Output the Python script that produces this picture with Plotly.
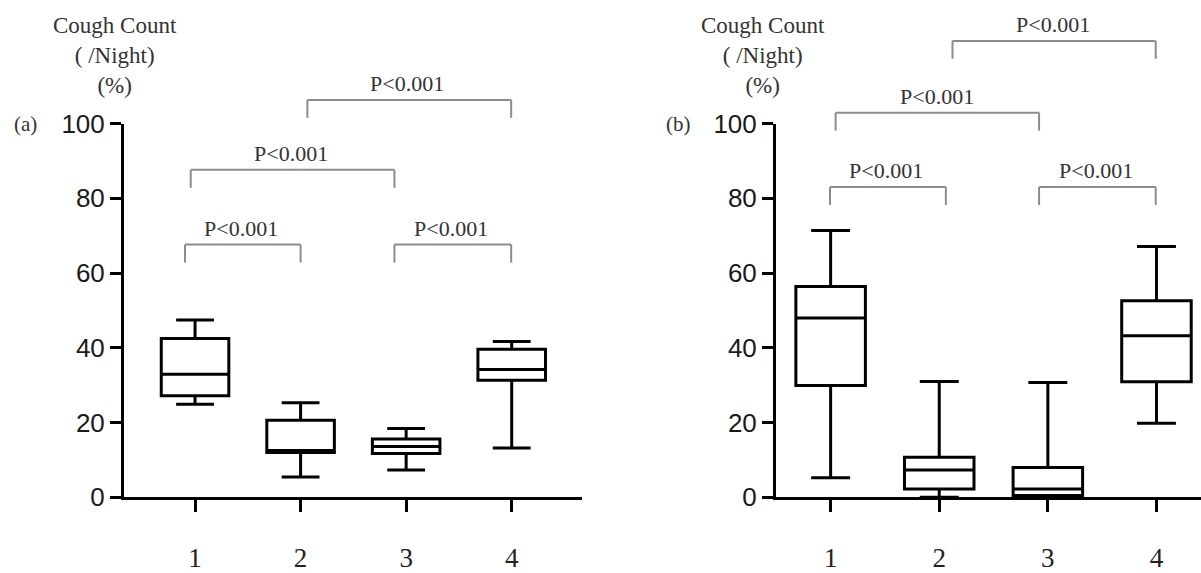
import plotly.graph_objects as go

# ---------------- data ----------------
groups = [1, 2, 3, 4]
group_labels = ["1", "2", "3", "4"]

# Panel (a)
a_lower = [24.9, 5.4, 7.3, 13.2]
a_q1 = [27.2, 12.0, 11.7, 31.3]
a_median = [32.9, 12.5, 13.6, 34.2]
a_q3 = [42.5, 20.6, 15.6, 39.6]
a_upper = [47.4, 25.3, 18.4, 41.7]

# Panel (b)
b_lower = [5.2, 0.0, 0.0, 19.8]
b_q1 = [29.9, 2.2, 0.5, 30.9]
b_median = [48.0, 7.3, 2.2, 43.2]
b_q3 = [56.4, 10.7, 8.0, 52.6]
b_upper = [71.4, 31.0, 30.7, 67.1]

p_text = "P<0.001"

# significance brackets: left group, right group, bracket height
a_br_left = [0.905, 2.889, 0.959, 2.064]
a_br_right = [2.0, 3.995, 2.889, 3.995]
a_br_top = [67.6, 67.6, 87.6, 106.3]
a_lab_x = [1.44, 3.425, 1.91, 3.01]

b_br_left = [0.994, 2.919, 1.046, 2.122]
b_br_right = [2.061, 3.993, 2.919, 3.993]
b_br_top = [83.0, 83.0, 102.9, 122.1]
b_lab_x = [1.51, 3.447, 1.978, 3.045]

y_ticks = [0, 20, 40, 60, 80, 100]
y_max = 100

# ---------------- figure ----------------
W, H = 1201, 573
fig = go.Figure()

box_style = dict(boxpoints=False, line=dict(color="black", width=3),
                 fillcolor="white", width=0.64, whiskerwidth=0.56,
                 showlegend=False, hoverinfo="skip")

fig.add_trace(go.Box(x=groups, q1=a_q1, median=a_median, q3=a_q3,
                     lowerfence=a_lower, upperfence=a_upper,
                     xaxis="x", yaxis="y", **box_style))
fig.add_trace(go.Box(x=groups, q1=b_q1, median=b_median, q3=b_q3,
                     lowerfence=b_lower, upperfence=b_upper,
                     xaxis="x2", yaxis="y2", **box_style))

ydom = [1 - 497.3 / H, 1 - 123.5 / H]

xcommon = dict(tickvals=groups, ticktext=group_labels, ticks="outside",
               ticklen=12, tickwidth=3, tickcolor="black",
               showline=True, linewidth=3, linecolor="black",
               showgrid=False, zeroline=False, automargin=False,
               tickfont=dict(family="Liberation Serif", size=27, color="#222"),
               ticklabelstandoff=22)
ycommon = dict(range=[0, y_max], tickvals=y_ticks, ticks="outside",
               ticklen=11, tickwidth=3, tickcolor="black",
               showline=True, linewidth=3, linecolor="black",
               showgrid=False, zeroline=False, domain=ydom, automargin=False,
               tickfont=dict(family="Liberation Sans", size=26, color="#1a1a1a"))

fig.update_layout(
    width=W, height=H,
    margin=dict(l=0, r=0, t=0, b=0, pad=0),
    paper_bgcolor="white", plot_bgcolor="white",
    xaxis=dict(domain=[124 / W, 582 / W], range=[0.327, 4.666], anchor="y", **xcommon),
    yaxis=dict(anchor="x", **ycommon),
    xaxis2=dict(domain=[776 / W, 1.0], range=[0.497, 4.41], anchor="y2", **xcommon),
    yaxis2=dict(anchor="x2", **ycommon),
)

shapes = []
annotations = []
drop = 4.8    # leg length in data units
lab_gap = 4.3  # label above bracket

def add_brackets(xref, yref, lefts, rights, tops, labx):
    yd = f"{yref} domain"
    line = dict(color="#8c8c8c", width=2)
    for x0, x1, yt, lx in zip(lefts, rights, tops, labx):
        shapes.append(dict(type="line", xref=xref, yref=yd, x0=x0, x1=x1,
                           y0=yt / y_max, y1=yt / y_max, line=line))
        shapes.append(dict(type="line", xref=xref, yref=yd, x0=x0, x1=x0,
                           y0=(yt - drop) / y_max, y1=yt / y_max, line=line))
        shapes.append(dict(type="line", xref=xref, yref=yd, x0=x1, x1=x1,
                           y0=(yt - drop) / y_max, y1=yt / y_max, line=line))
        annotations.append(dict(xref=xref, yref=yd, x=lx, y=(yt + lab_gap) / y_max,
                                text=p_text, showarrow=False,
                                font=dict(family="Liberation Serif", size=22, color="#333"),
                                xanchor="center", yanchor="middle"))

add_brackets("x", "y", a_br_left, a_br_right, a_br_top, a_lab_x)
add_brackets("x2", "y2", b_br_left, b_br_right, b_br_top, b_lab_x)

title_font = dict(family="Liberation Serif", size=23, color="#333")
for cx, tag, tx in [(115 / W, "(a)", 25 / W), (762.5 / W, "(b)", 678.5 / W)]:
    annotations.append(dict(xref="paper", yref="paper", x=cx, y=1 - 56 / H,
                            text="Cough Count<br>( /Night)<br>(%)", showarrow=False,
                            font=title_font, xanchor="center", yanchor="middle", align="center"))
    annotations.append(dict(xref="paper", yref="paper", x=tx, y=1 - 124 / H,
                            text=tag, showarrow=False,
                            font=dict(family="Liberation Serif", size=21, color="#333"),
                            xanchor="center", yanchor="middle"))

fig.update_layout(shapes=shapes, annotations=annotations)
fig.write_html("out.html", config={"displayModeBar": False},
               post_script="document.body.style.margin='0';document.body.style.overflow='hidden';")
